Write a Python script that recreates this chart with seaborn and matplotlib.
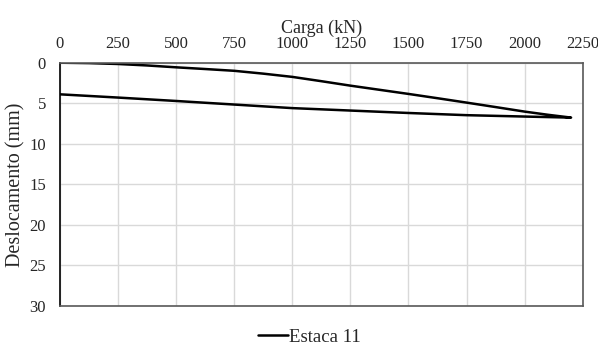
import pandas as pd
import matplotlib.pyplot as plt
import seaborn as sns

# carregamento / descarregamento da Estaca 11
carga_ida = [0, 125, 250, 375, 500, 625, 750, 875, 1000, 1125, 1250, 1375, 1500, 1625, 1750, 1875, 2000, 2100, 2200]
desloc_ida = [0.0, 0.05, 0.16, 0.34, 0.57, 0.78, 1.0, 1.35, 1.75, 2.28, 2.83, 3.34, 3.85, 4.38, 4.92, 5.47, 6.03, 6.42, 6.77]
carga_volta = [2200, 2000, 1750, 1500, 1250, 1000, 750, 500, 250, 0]
desloc_volta = [6.77, 6.64, 6.47, 6.2, 5.9, 5.6, 5.16, 4.72, 4.3, 3.9]

df = pd.DataFrame({
    'Carga': carga_ida + carga_volta,
    'Deslocamento': desloc_ida + desloc_volta,
    'Estaca': ['Estaca 11'] * (len(carga_ida) + len(carga_volta)),
})

sns.set_style('white')
plt.rcParams['font.family'] = ['Liberation Serif', 'DejaVu Serif']

fig = plt.figure(figsize=(5.98, 3.45), dpi=100)
ax = fig.add_axes([60 / 598, 1 - 306 / 345, 522.7 / 598, 243.3 / 345])

sns.lineplot(data=df, x='Carga', y='Deslocamento', hue='Estaca', palette=['black'],
             sort=False, estimator=None, linewidth=1.8, ax=ax)

ax.set_xlim(0, 2250)
ax.set_ylim(30, 0)
ax.set_xticks(range(0, 2251, 250))
ax.set_yticks(range(0, 31, 5))
ax.xaxis.tick_top()
ax.xaxis.set_label_position('top')
ax.set_xlabel('Carga (kN)', fontsize=13, labelpad=2.5)
ax.set_ylabel('Deslocamento (mm)', fontsize=14.5, labelpad=3)
ax.tick_params(axis='x', labelsize=12, length=0, pad=7.5)
ax.tick_params(axis='y', labelsize=12, length=0, pad=10)
ax.grid(True, color='#d9d9d9', linewidth=1)

ax.spines['left'].set_color('black')
ax.spines['left'].set_linewidth(1.2)
for s in ['bottom', 'right', 'top']:
    ax.spines[s].set_color('#595959')
    ax.spines[s].set_linewidth(1.2)

ax.get_legend().remove()
fig.legend(*ax.get_legend_handles_labels(), loc='center', bbox_to_anchor=(0.518, 0.023),
           frameon=False, fontsize=13.5, handlelength=1.6, handletextpad=0.05,
           borderpad=0, borderaxespad=0)

fig.savefig('out.png', dpi=100)
